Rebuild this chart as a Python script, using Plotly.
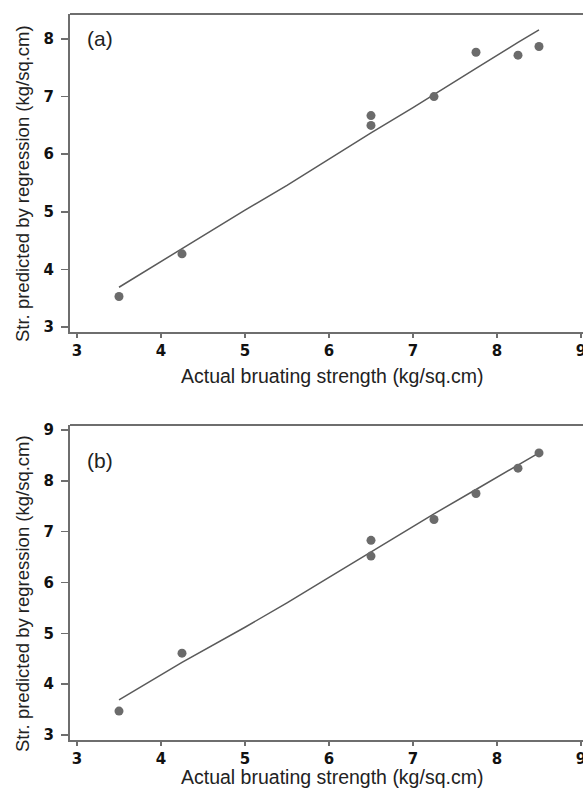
import plotly.graph_objects as go
from plotly.subplots import make_subplots

# Panel (a)
a_actual = [3.5, 4.25, 6.5, 6.5, 7.25, 7.75, 8.25, 8.5]
a_pred = [3.53, 4.27, 6.67, 6.5, 7.0, 7.77, 7.72, 7.87]
a_line_x = [3.5, 4.25, 5.0, 5.5, 6.0, 6.5, 7.0, 7.25, 7.75, 8.25, 8.5]
a_line_y = [3.69, 4.36, 5.03, 5.46, 5.92, 6.37, 6.81, 7.04, 7.49, 7.94, 8.16]

# Panel (b)
b_actual = [3.5, 4.25, 6.5, 6.5, 7.25, 7.75, 8.25, 8.5]
b_pred = [3.47, 4.61, 6.83, 6.52, 7.24, 7.75, 8.25, 8.55]
b_line_x = [3.5, 4.25, 5.0, 5.5, 6.0, 6.5, 7.0, 7.25, 7.75, 8.25, 8.5]
b_line_y = [3.69, 4.43, 5.12, 5.6, 6.1, 6.6, 7.09, 7.35, 7.83, 8.31, 8.55]

x_ticks = [3, 4, 5, 6, 7, 8, 9]
a_y_ticks = [3, 4, 5, 6, 7, 8]
b_y_ticks = [3, 4, 5, 6, 7, 8, 9]

x_title = "Actual bruating strength (kg/sq.cm)"
y_title = "Str. predicted by regression (kg/sq.cm)"

# figure is wider than the 583px window; the right side is cropped like the reference
W, H = 600, 788
ML, MR, MT, MB = 70, 0, 14, 48
ph = H - MT - MB
pw = W - ML - MR
ux = 84.0  # px per x unit

fig = make_subplots(rows=2, cols=1)
mc = "#6b6b6b"
lc = "#5a5a5a"

for r, (xs, ys, lx, ly) in enumerate([(a_actual, a_pred, a_line_x, a_line_y),
                                      (b_actual, b_pred, b_line_x, b_line_y)], start=1):
    fig.add_trace(go.Scatter(x=lx, y=ly, mode="lines", hoverinfo="skip",
                             line=dict(color=lc, width=1.5), showlegend=False), row=r, col=1)
    fig.add_trace(go.Scatter(x=xs, y=ys, mode="markers", hoverinfo="skip",
                             marker=dict(color=mc, size=9), showlegend=False), row=r, col=1)

tickfont = dict(family="DejaVu Sans", size=15, color="#111", weight="bold")
base = dict(showgrid=False, zeroline=False, showline=True, linecolor="#6e6e6e",
            linewidth=2, ticks="outside", tickwidth=1.5, tickcolor="#6e6e6e",
            tickfont=tickfont, mirror=False, showspikes=False, ticklabeloverflow="allow")
xax = dict(ticklen=4, ticklabelstandoff=0, **base)
yax = dict(ticklen=7, ticklabelstandoff=4, **base)

top_dom = [(740 - 332) / ph, 1.0]
bot_dom = [0.0, (740 - 425) / ph]
x0 = 3 - 7 / ux
xr = [x0, x0 + pw / ux]

fig.update_layout(
    width=W, height=H, margin=dict(l=ML, r=MR, t=MT, b=MB),
    plot_bgcolor="white", paper_bgcolor="white", hovermode=False,
    xaxis=dict(range=xr, tickvals=x_ticks, **xax),
    yaxis=dict(domain=top_dom, range=[3 - 5 / 57.6, 8 + 25 / 57.6], tickvals=a_y_ticks, **yax),
    xaxis2=dict(range=xr, tickvals=x_ticks, **xax),
    yaxis2=dict(domain=bot_dom, range=[3 - 5 / 50.83, 9 + 5 / 50.83], tickvals=b_y_ticks, **yax),
)

def py(pix):
    return (H - MB - pix) / ph

def px(pix):
    return (pix - ML) / pw

xfont = dict(family="Liberation Sans, Arial", size=19.5, color="#222")
yfont = dict(family="Liberation Sans, Arial", size=18.5, color="#222")
anns = []
for yc in (376, 777):
    anns.append(dict(text=x_title, x=px(332), y=py(yc), xref="paper", yref="paper",
                     showarrow=False, font=xfont, xanchor="center", yanchor="middle"))
for yc in (184, 594):
    anns.append(dict(text=y_title, x=px(22), y=py(yc), xref="paper", yref="paper",
                     showarrow=False, font=yfont, textangle=-90, xanchor="center", yanchor="middle"))
for lab, yc in (("(a)", 39), ("(b)", 460)):
    anns.append(dict(text=lab, x=px(85), y=py(yc), xref="paper", yref="paper",
                     showarrow=False, font=dict(family="Liberation Sans, Arial", size=21, color="#222"),
                     xanchor="left", yanchor="middle"))
fig.update_layout(annotations=anns)

# top frame lines
for yd in (top_dom[1], bot_dom[1]):
    fig.add_shape(type="line", xref="paper", yref="paper", x0=0, x1=1, y0=yd, y1=yd,
                  line=dict(color="#6e6e6e", width=2))

fig.write_html("out.html", config={"displayModeBar": False, "staticPlot": True},
               post_script="document.body.style.margin='0';document.body.style.overflow='hidden';")
